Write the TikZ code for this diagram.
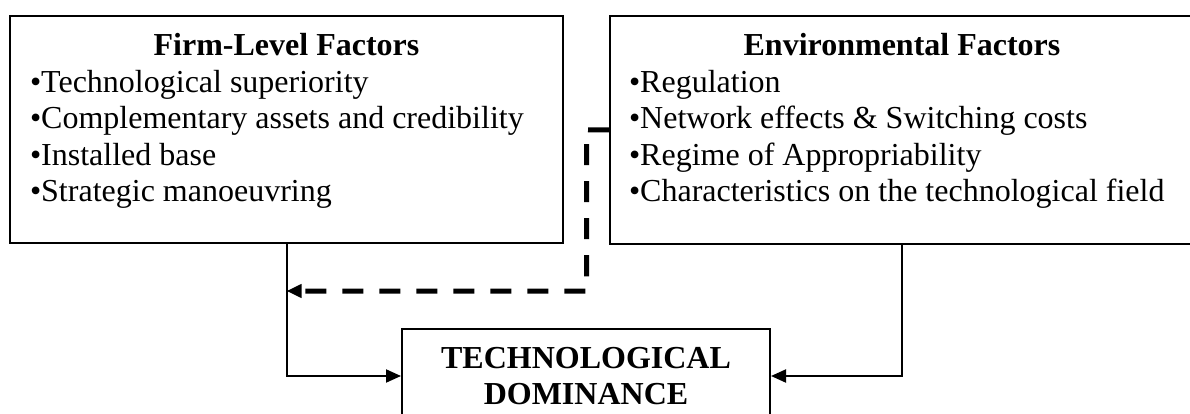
\documentclass[tikz,border=0pt]{standalone}
\usepackage{fontspec}
\setmainfont{Liberation Serif}
\usepackage{tikz}
\usetikzlibrary{arrows.meta}
\usetikzlibrary{positioning}
\usetikzlibrary{calc}

\begin{document}
\begin{tikzpicture}[x=1pt, y=-1pt, line width=2pt,
                    factor box/.style={draw, inner sep=0pt, anchor=north west,
                                       font=\fontsize{32pt}{36.5pt}\selectfont},
                    result box/.style={draw, anchor=north, align=center, minimum width=368pt,
                                       inner xsep=10pt, inner ysep=18pt,
                                       font=\fontsize{32pt}{36.5pt}\selectfont\bfseries},
                    link/.style={-{Triangle[length=15pt,width=13pt]}},
                    dash link/.style={-{Triangle[length=15pt,width=13pt]}, line width=5pt,
                                      dash pattern=on 21pt off 16pt}]

  \useasboundingbox (0,0) rectangle (1190,414);

  \node[factor box] (firm) at (9,15) {\parbox[c][227pt][t]{553pt}{%
    \centering\bfseries\rule{0pt}{40pt}Firm-Level Factors\par
    \raggedright\mdseries\leftskip=20pt
    •Technological superiority\par
    •Complementary assets and credibility\par
    •Installed base\par
    •Strategic manoeuvring\par}};

  \node[factor box] (env) at (609,15) {\parbox[c][228pt][t]{584pt}{%
    \centering\bfseries\rule{0pt}{40pt}Environmental Factors\par
    \raggedright\mdseries\leftskip=19pt
    •Regulation\par
    •Network effects \& Switching costs\par
    •Regime of Appropriability\par
    •Characteristics on the technological field\par}};

  \node[result box] (tech) at (586,328) {TECHNOLOGICAL\\DOMINANCE};

  \coordinate (gap) at ($(firm.east)!0.5!(env.west)$);
  \coordinate (join) at (firm.south |- 0,291);

  \draw[link] (firm.south) |- (tech.west);
  \draw[link] (env.south) |- (tech.east);
  \draw[dash link] (env.west) -- (gap) |- (join);

\end{tikzpicture}
\end{document}
